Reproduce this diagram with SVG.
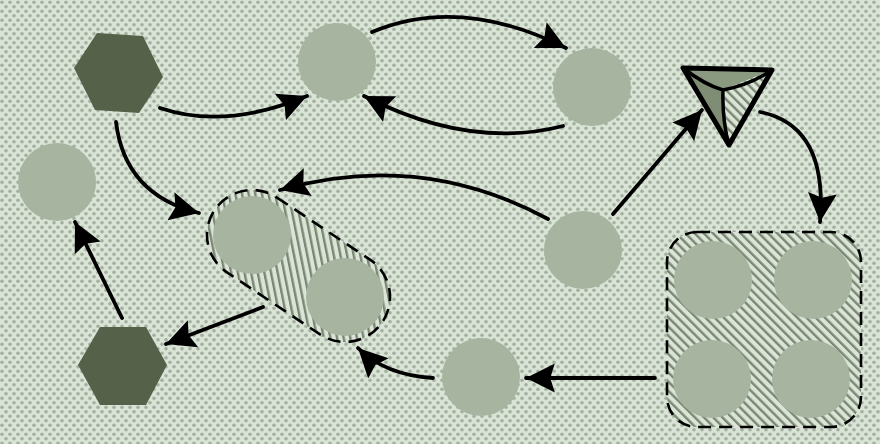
<svg xmlns="http://www.w3.org/2000/svg" width="880" height="444" viewBox="0 0 880 444">
<defs>
<pattern id="dots" width="8" height="9" patternUnits="userSpaceOnUse">
<rect width="8" height="9" fill="#d9e4d6"/>
<circle cx="2" cy="2.25" r="1.8" fill="#a4b09f"/>
<circle cx="6" cy="6.75" r="1.8" fill="#a4b09f"/>
</pattern>
<pattern id="hatch" width="6.5" height="6.5" patternUnits="userSpaceOnUse" patternTransform="rotate(-45)">
<rect width="6.5" height="6.5" fill="#dae5d7"/>
<rect x="0" y="0" width="2.4" height="6.5" fill="#7b8773"/>
</pattern>
<marker id="ah" markerUnits="userSpaceOnUse" markerWidth="30" markerHeight="30" refX="25" refY="12.5" orient="auto" viewBox="0 0 26 25">
<path d="M0,0 L25,12.5 L0,25 L4,12.5 z" fill="#000"/>
</marker>
<style>
.c{fill:#a7b4a0}
.hex{fill:#556149}
.grp{stroke:#000;stroke-width:2.6;stroke-dasharray:13 8;fill:url(#hatch)}
.e{fill:none;stroke:#000;stroke-width:3.8;stroke-linecap:round;marker-end:url(#ah)}
</style>
</defs>
<rect width="880" height="444" fill="url(#dots)"/>

<g id="group-pill">
<rect x="197.6" y="221" width="201.8" height="90" rx="45" transform="rotate(33.7 298.5 266)" class="grp"/>
</g>
<g id="group-square">
<rect x="667" y="232" width="194" height="195" rx="30" class="grp"/>
</g>

<g id="hex-top"><polygon class="hex" points="74,68 97,33 143,36 163,77 139,113 95,110"/></g>
<g id="hex-bottom"><polygon class="hex" points="78,365 100,327 146,327 167,365 146,405 100,405"/></g>
<g id="circle-left"><circle class="c" cx="57" cy="182" r="39"/></g>
<g id="circle-top"><circle class="c" cx="337" cy="62" r="39"/></g>
<g id="circle-topright"><circle class="c" cx="592" cy="87" r="39"/></g>
<g id="circle-mid"><circle class="c" cx="583" cy="250" r="39"/></g>
<g id="circle-bottom"><circle class="c" cx="481" cy="377" r="39"/></g>
<g id="pill-a"><circle class="c" cx="252" cy="235" r="39"/></g>
<g id="pill-b"><circle class="c" cx="345" cy="297" r="39"/></g>
<g id="sq-a"><circle class="c" cx="713" cy="280" r="39"/></g>
<g id="sq-b"><circle class="c" cx="813" cy="280" r="39"/></g>
<g id="sq-c"><circle class="c" cx="712" cy="379" r="39"/></g>
<g id="sq-d"><circle class="c" cx="811" cy="379" r="39"/></g>

<g id="triangle">
<polygon points="683,68 772,70 723,90" fill="#8a9a80"/>
<polygon points="683,68 723,90 729,145" fill="#7e8d73"/>
<polygon points="772,70 723,90 729,145" fill="url(#hatch)"/>
<path d="M683,68 Q705,85 723,90 Q750,85 772,70 M723,90 Q722,120 729,145" fill="none" stroke="#000" stroke-width="3.5" stroke-linejoin="round" stroke-linecap="round"/>
<polygon points="683,68 772,70 729,145" fill="none" stroke="#000" stroke-width="5" stroke-linejoin="round"/>
</g>

<g id="connectors">
<path class="e" d="M160,108 Q225,130 307,96"/>
<path class="e" d="M116,122 Q125,195 199,213"/>
<path class="e" d="M372,32 Q460,-5 566,48"/>
<path class="e" d="M563,126 Q470,150 364,96"/>
<path class="e" d="M548,219 Q420,150 280,190"/>
<path class="e" d="M613,214 L702,110"/>
<path class="e" d="M760,112 C800,120 826,150 820,222"/>
<path class="e" d="M655,378 L526,378"/>
<path class="e" d="M433,378 Q385,375 358,348"/>
<path class="e" d="M263,307 L166,344"/>
<path class="e" d="M122,318 L75,222"/>
</g>
</svg>
